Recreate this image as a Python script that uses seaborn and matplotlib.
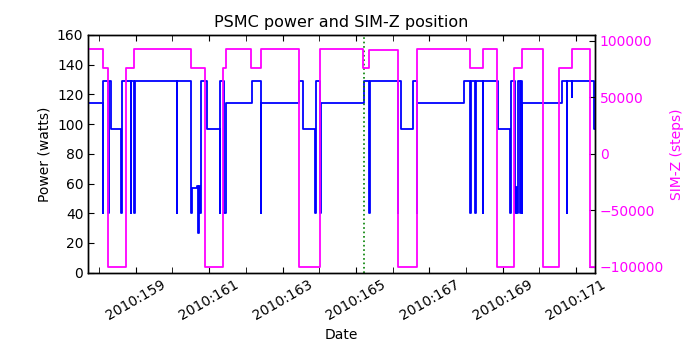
import matplotlib
matplotlib.use("Agg")
import matplotlib.pyplot as plt
from matplotlib.ticker import FixedLocator, MultipleLocator, FuncFormatter
import seaborn as sns

# PSMC power (watts), step changes: day of year 2010 -> value
power_days = [157.703, 158.093, 158.120, 158.243, 158.264, 158.322, 158.594, 158.616,
              158.866, 158.883, 158.965, 158.981, 160.120, 160.136, 160.501, 160.523,
              160.681, 160.708, 160.725, 160.755, 160.774, 160.937, 161.292, 161.308,
              161.417, 161.455, 162.163, 162.409, 162.425, 163.460, 163.569, 163.888,
              163.910, 164.025, 164.041, 165.223, 165.368, 165.384, 166.142, 166.158,
              166.232, 166.550, 166.659, 166.676, 167.956, 168.112, 168.128, 168.256,
              168.272, 168.458, 168.474, 168.875, 169.202, 169.221, 169.330, 169.357,
              169.401, 169.420, 169.474, 169.490, 169.515, 169.534, 170.627, 170.747,
              170.763, 170.883, 170.899, 171.500, 171.518]
power_watts = [114, 40, 129, 40, 129, 97, 40, 129,
               40, 129, 40, 129, 40, 129, 40, 57.3,
               58.5, 26.7, 58.5, 40, 129, 97, 40, 129,
               40, 114, 129, 40, 114, 129, 97, 40,
               129, 40, 114, 129, 40, 129, 40, 129,
               97, 129, 40, 114, 129, 40, 129, 40,
               129, 40, 129, 97, 40, 129, 40, 58,
               40, 129, 40, 129, 40, 114, 129, 40,
               129, 118, 129, 97, 97]

# SIM-Z position (steps)
simz_days = [157.703, 158.093, 158.240, 158.722, 158.965, 160.501, 160.891, 161.373,
             161.455, 162.153, 162.417, 163.460, 164.025, 165.204, 165.368, 166.142,
             166.659, 168.112, 168.458, 168.840, 169.319, 169.520, 170.093, 170.529,
             170.891, 171.381, 171.518]
simz_steps = [92904, 75624, -99616, 75624, 92904, 75624, -99616, 75624,
              92904, 75624, 92904, -99616, 92904, 75624, 91500, -99616,
              92904, 75624, 92904, -99616, 75624, 92904, -99616, 75624,
              92904, -99616, -99616]

marker_day = 165.232
day_ticks = list(range(159, 172, 2))

sns.set_style("ticks")
plt.rcParams['font.family'] = ['DejaVu Sans']
plt.rcParams['xtick.direction'] = 'in'
plt.rcParams['ytick.direction'] = 'in'
for key in ('text.color', 'axes.labelcolor', 'xtick.color', 'ytick.color', 'axes.edgecolor'):
    plt.rcParams[key] = 'black'

fig, ax = plt.subplots(figsize=(7, 3.5), dpi=100)
fig.subplots_adjust(left=0.126, right=0.85, bottom=0.221, top=0.9)

sns.lineplot(x=power_days, y=power_watts, drawstyle='steps-post', estimator=None,
             sort=False, color='blue', lw=1.3, ax=ax)
ax.axvline(marker_day, color=(0, 0.5, 0), ls=':', lw=1.2)
ax.set_xlim(power_days[0], power_days[-1])
ax.set_ylim(0, 160)
ax.set_yticks(range(0, 161, 20))
ax.xaxis.set_major_locator(FixedLocator(day_ticks))
ax.xaxis.set_minor_locator(MultipleLocator(1))
ax.xaxis.set_major_formatter(FuncFormatter(lambda v, p: "2010:%03d" % int(round(v))))
ax.tick_params(axis='x', which='both', top=True, length=4, labelsize=10)
ax.tick_params(axis='y', length=4, labelsize=10)
for lab in ax.get_xticklabels():
    lab.set_rotation(30)
    lab.set_ha('center')
ax.set_xlabel("Date", fontsize=10)
ax.set_ylabel("Power (watts)", fontsize=10)
ax.set_title("PSMC power and SIM-Z position", fontsize=11.5)

ax2 = ax.twinx()
sns.lineplot(x=simz_days, y=simz_steps, drawstyle='steps-post', estimator=None,
             sort=False, color='magenta', lw=1.3, ax=ax2)
ax2.set_ylim(-105000, 105000)
ax2.set_yticks(range(-100000, 100001, 50000))
ax2.tick_params(axis='y', length=4, labelsize=10, labelcolor='magenta')
ax2.set_ylabel("SIM-Z (steps)", color='magenta', fontsize=10)
ax2.set_xlim(power_days[0], power_days[-1])

for a in (ax, ax2):
    for s in a.spines.values():
        s.set_color('black')
        s.set_linewidth(1.0)

fig.savefig("out.png", dpi=100)
